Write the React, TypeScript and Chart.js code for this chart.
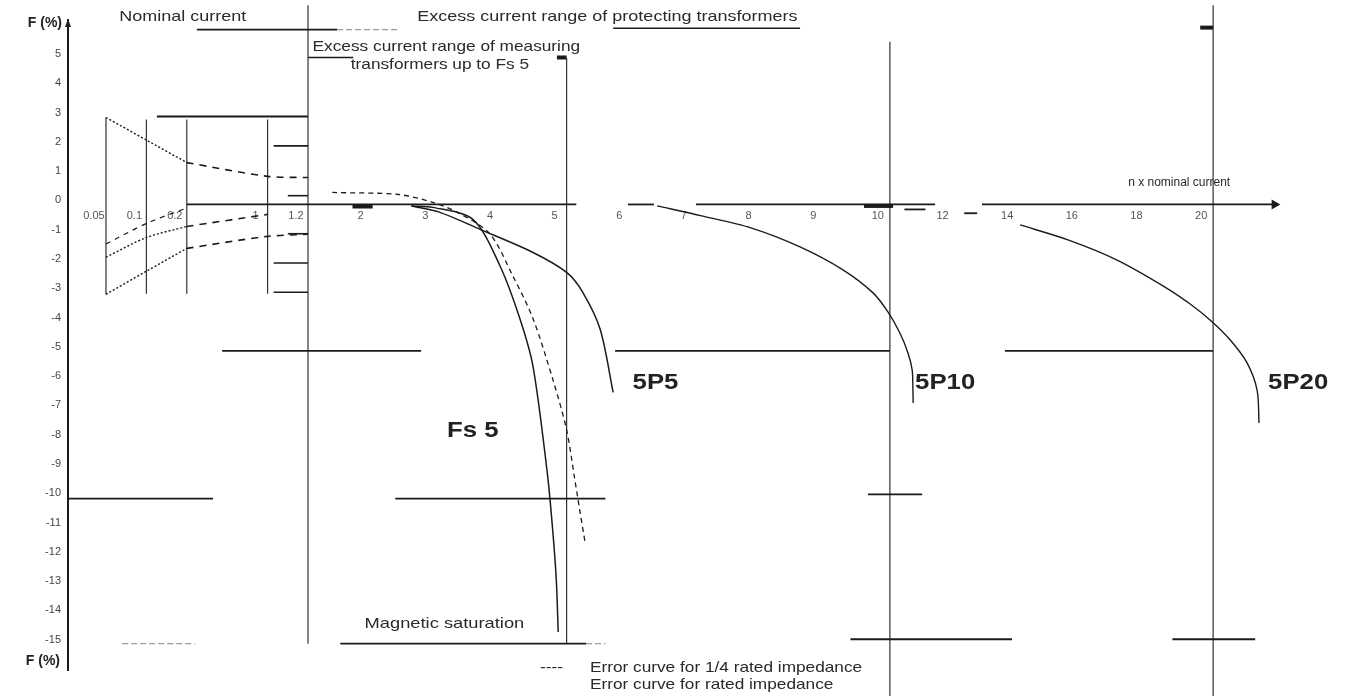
import React, { useEffect, useRef } from "react";
import { Chart, registerables } from "chart.js";

Chart.register(...registerables);

// ---------- axis definitions ----------
const xTickValues = [0.05, 0.1, 0.2, 1, 1.2, 2, 3, 4, 5, 6, 7, 8, 9, 10, 12, 14, 16, 18, 20];
const xTickLabels = ["0.05", "0.1", "0.2", "1", "1.2", "2", "3", "4", "5", "6", "7", "8", "9", "10", "12", "14", "16", "18", "20"];
const yTickValues = [5, 4, 3, 2, 1, 0, -1, -2, -3, -4, -5, -6, -7, -8, -9, -10, -11, -12, -13, -14, -15];
// slot of each x tick on the (non-linear) current axis
const xTickSlots = [0, 1, 2, 4, 5, 6.6, 8.2, 9.8, 11.4, 13, 14.6, 16.2, 17.8, 19.4, 21, 22.6, 24.2, 25.8, 27.4];

// ---------- data: [n x nominal current, F %] ----------
const limitUpper = [[0.05, 2.97], [0.1, 2.2], [0.2, 1.43], [1, 0.96], [1.2, 0.92]];
const limitLower = [[0.05, -3.07], [0.1, -2.28], [0.2, -1.5], [1, -1.09], [1.2, -1.02]];
const curveLeftRated = [[0.05, -1.8], [0.1, -1.13], [0.2, -0.75], [1, -0.34]];
const curveLeftQuarter = [[0.05, -1.35], [0.1, -0.65], [0.2, -0.12]];

const fs5Quarter = [[1.5, 0.41], [2.4, 0.34], [2.93, 0.07], [3.31, -0.27], [3.81, -1.0], [4.17, -2.45], [4.48, -3.9], [4.79, -6.0], [5.0, -7.7], [5.12, -9.3], [5.2, -10.4], [5.29, -11.6]];
const fs5Rated = [[2.6, -0.05], [2.93, -0.1], [3.55, -0.51], [3.97, -2.1], [4.28, -3.92], [4.48, -5.53], [4.7, -9.15], [4.78, -11.0], [4.84, -12.8], [4.87, -14.6]];
const p5Curve = [[2.6, -0.05], [3.04, -0.27], [3.66, -0.85], [4.48, -1.64], [5.0, -2.32], [5.25, -3.0], [5.52, -4.27], [5.72, -6.42]];
const p10Curve = [[6.4, -0.05], [7.09, -0.39], [7.85, -0.8], [8.61, -1.45], [9.28, -2.24], [9.74, -3.02], [9.97, -3.67], [10.31, -4.39], [10.56, -5.07], [10.69, -5.65], [10.71, -6.17], [10.72, -6.78]];
const p20Curve = [[14.03, -0.7], [15.51, -1.21], [17.03, -1.9], [18.51, -2.82], [19.29, -3.4], [19.94, -3.98], [20.53, -4.63], [21.05, -5.41], [21.36, -6.34], [21.42, -7.46]];

// horizontal segments [n from, n to, F]
const zeroLine = [[0.2, 5.15, 0], [5.95, 6.35, 0], [7.0, 11.4, 0]];
const zeroArrow = [[12.85, 21.9, 0]];
const levelPlus3 = [[0.126, 1.2, 3]];
const levelMinus5 = [[0.55, 2.75, -5], [5.75, 10, -5], [13.56, 20, -5]];
const levelMinus10 = [[0.003, 0.46, -10.05], [2.35, 5.6, -10.05], [9.66, 11, -9.9]];
const levelMinus15 = [[1.6, 5.3, -15], [9.39, 13.78, -14.85], [18.74, 21.3, -14.85]];
const levelFaint = [[0.07, 0.28, -15], [1.56, 2.42, 5.97], [5.3, 5.6, -15]];
const stepMarks = [[1.03, 1.2, 2], [1.1, 1.2, 0.3], [1.1, 1.2, -1], [1.03, 1.2, -2], [1.03, 1.2, -3]];
const rangeLines = [[0.3, 1.56, 5.97], [5.72, 8.61, 6.02], [1.2, 1.76, 5.02]];
const heavyMarks = [[4.85, 5.0, 5.02], [19.6, 20, 6.04], [1.75, 2.0, -0.07], [9.6, 10.1, -0.05]];
const smallDashes = [[10.45, 11.1, -0.17], [12.3, 12.7, -0.3]];
// vertical segments [n, F top, F bottom]
const verticalLines = [[0.05, 2.97, -3.07], [0.1, 2.9, -3.05], [0.2, 2.9, -3.05], [1, 2.9, -3.05], [1.2, 6.8, -15], [5, 5, -15], [10, 5.56, -16.8], [20, 6.8, -16.8]];

// text notes [text, n, F]
const noteTop = [["Nominal current", 0.19, 6.42], ["Excess current range of protecting transformers", 5.63, 6.42]];
const noteMeasuring = [["Excess current range of measuring", 3.14, 5.39], ["transformers up to Fs 5", 3.04, 4.78]];
const noteAxis = [["n x nominal current", 18.95, 0.75]];
const noteClasses = [["5P5", 6.02, -6.08], ["5P10", 10.78, -6.08], ["5P20", 21.7, -6.08], ["Fs 5", 3.15, -7.75]];
const noteSaturation = [["Magnetic saturation", 1.9, -14.33]];
const noteLegend = [["----", 4.59, -15.84], ["Error curve for 1/4 rated impedance", 5.36, -15.84], ["Error curve for rated impedance", 5.36, -16.42]];

function toSlot(n: number): number {
  const v = xTickValues, s = xTickSlots;
  let i = 0;
  if (n <= v[0]) i = 0;
  else if (n >= v[v.length - 1]) i = v.length - 2;
  else {
    while (n > v[i + 1]) i++;
  }
  return s[i] + ((n - v[i]) * (s[i + 1] - s[i])) / (v[i + 1] - v[i]);
}

const INK = "#1b1b1b";
const FONT = "'Liberation Sans', Arial, sans-serif";

export default function App() {
  const ref = useRef<HTMLCanvasElement | null>(null);

  useEffect(() => {
    const canvas = ref.current;
    if (!canvas) return;

    const base = { pointRadius: 0, borderColor: INK, borderWidth: 1.3, fill: false, clip: false as any, tension: 0 };
    const pts = (arr: number[][]) => arr.map(([n, f]) => ({ x: toSlot(n), y: f }));
    const hseg = (list: number[][], style: any) =>
      list.map(([a, b, f]) => ({ ...base, ...style, data: pts([[a, f], [b, f]]) }));
    const curve = (arr: number[][], style: any) => ({ ...base, tension: 0.3, ...style, data: pts(arr) });

    const datasets: any[] = [
      curve(limitUpper.slice(0, 3), { borderDash: [2, 2], borderWidth: 1.4 }),
      curve(limitUpper.slice(2), { borderDash: [7, 6], borderWidth: 1.6 }),
      curve(limitLower.slice(0, 3), { borderDash: [2, 2], borderWidth: 1.4 }),
      curve(limitLower.slice(2), { borderDash: [7, 6], borderWidth: 1.6 }),
      curve(curveLeftRated.slice(0, 3), { borderDash: [2, 2], borderWidth: 1.4 }),
      curve(curveLeftRated.slice(2), { borderDash: [7, 6], borderWidth: 1.6 }),
      curve(curveLeftQuarter, { borderDash: [5, 5], borderWidth: 1.2 }),
      curve(fs5Quarter, { borderDash: [5, 4], borderWidth: 1.3 }),
      curve(fs5Rated, { borderWidth: 1.5 }),
      curve(p5Curve, { borderWidth: 1.5 }),
      curve(p10Curve, { borderWidth: 1.4 }),
      curve(p20Curve, { borderWidth: 1.4 }),
      ...hseg(zeroLine, { borderWidth: 1.8 }),
      ...zeroArrow.map(([a, b, f]) => ({
        ...base,
        borderWidth: 1.8,
        data: pts([[a, f], [b, f]]),
        pointRadius: (c: any) => (c.dataIndex === 1 ? 4 : 0),
        pointStyle: "triangle",
        rotation: 90,
        pointBackgroundColor: INK,
        pointBorderColor: INK,
      })),
      ...hseg(levelPlus3, { borderWidth: 2 }),
      ...hseg(levelMinus5, { borderWidth: 1.8 }),
      ...hseg(levelMinus10, { borderWidth: 1.8 }),
      ...hseg(levelMinus15, { borderWidth: 1.8 }),
      ...hseg(levelFaint, { borderWidth: 1.2, borderColor: "#9a9a9a", borderDash: [6, 3] }),
      ...hseg(stepMarks, { borderWidth: 1.6 }),
      ...hseg(rangeLines, { borderWidth: 1.6 }),
      ...hseg(heavyMarks, { borderWidth: 4 }),
      ...hseg(smallDashes, { borderWidth: 1.8 }),
      ...verticalLines.map(([n, t, b]) => ({ ...base, borderWidth: 1.2, borderColor: "#333", data: pts([[n, t], [n, b]]) })),
    ];

    const drawNotes = (chart: any) => {
      const { ctx, scales, chartArea } = chart;
      const x = scales.x, y = scales.y;
      const put = (list: any[], font: string, color: string, align: CanvasTextAlign, stretch: number) => {
        ctx.font = font;
        ctx.fillStyle = color;
        ctx.textAlign = align;
        ctx.textBaseline = "middle";
        for (const [t, n, f] of list) {
          ctx.save();
          ctx.translate(x.getPixelForValue(toSlot(n)), y.getPixelForValue(f));
          ctx.scale(stretch, 1);
          ctx.fillText(t, 0, 0);
          ctx.restore();
        }
      };
      ctx.save();
      put(noteTop, `15px ${FONT}`, "#2a2a2a", "center", 1.2);
      put(noteMeasuring, `15px ${FONT}`, "#2a2a2a", "center", 1.15);
      put(noteAxis, `12px ${FONT}`, "#2a2a2a", "center", 1.0);
      put(noteClasses, `bold 22px ${FONT}`, "#222", "left", 1.17);
      put(noteSaturation, `15px ${FONT}`, "#2a2a2a", "left", 1.22);
      put(noteLegend, `15px ${FONT}`, "#2a2a2a", "left", 1.15);
      // axis captions
      ctx.font = `bold 14px ${FONT}`;
      ctx.fillStyle = "#222";
      ctx.textAlign = "right";
      ctx.textBaseline = "middle";
      ctx.fillText("F (%)", chartArea.left - 6, y.getPixelForValue(6.2));
      ctx.fillText("F (%)", chartArea.left - 8, y.getPixelForValue(-15.6));
      // axis arrow tip
      const ax = chartArea.left;
      ctx.beginPath();
      ctx.moveTo(ax - 3, chartArea.top + 7);
      ctx.lineTo(ax + 3, chartArea.top + 7);
      ctx.lineTo(ax, chartArea.top - 1);
      ctx.closePath();
      ctx.fill();
      ctx.restore();
    };

    const chart = new Chart(canvas, {
      type: "line",
      data: { datasets },
      options: {
        animation: false,
        responsive: false,
        devicePixelRatio: 1,
        events: [],
        layout: { padding: { top: 20, right: 45, bottom: 26, left: 0 } },
        plugins: { legend: { display: false }, tooltip: { enabled: false } },
        scales: {
          x: {
            type: "linear",
            position: { y: 0 } as any,
            min: -0.94,
            max: 29.55,
            grid: { display: false, drawTicks: false },
            border: { display: false },
            afterBuildTicks: (s: any) => {
              s.ticks = xTickSlots.map((v) => ({ value: v }));
            },
            ticks: {
              autoSkip: false,
              maxRotation: 0,
              padding: 5,
              labelOffset: -12,
              color: "#555",
              font: { size: 11, family: FONT },
              callback: (v: any) => {
                const i = xTickSlots.indexOf(Number(v));
                return i >= 0 ? xTickLabels[i] : "";
              },
            },
          },
          y: {
            type: "linear",
            min: -15.9,
            max: 6.3,
            grid: { display: false, tickLength: 6 },
            border: { display: true, color: INK, width: 2 },
            afterFit: (s: any) => {
              s.width = 68;
            },
            afterBuildTicks: (s: any) => {
              s.ticks = yTickValues.map((v) => ({ value: v }));
            },
            ticks: {
              autoSkip: false,
              padding: 1,
              labelOffset: -4,
              color: "#444",
              font: { size: 11, family: FONT },
              callback: (v: any) => String(v),
            },
          },
        },
      },
      plugins: [{ id: "notes", afterDatasetsDraw: drawNotes }],
    });
    return () => chart.destroy();
  }, []);

  return (
    <div style={{ position: "fixed", left: 0, top: 0, width: 1345, height: 696, background: "#fff" }}>
      <canvas ref={ref} width={1345} height={696} style={{ display: "block" }} />
    </div>
  );
}
